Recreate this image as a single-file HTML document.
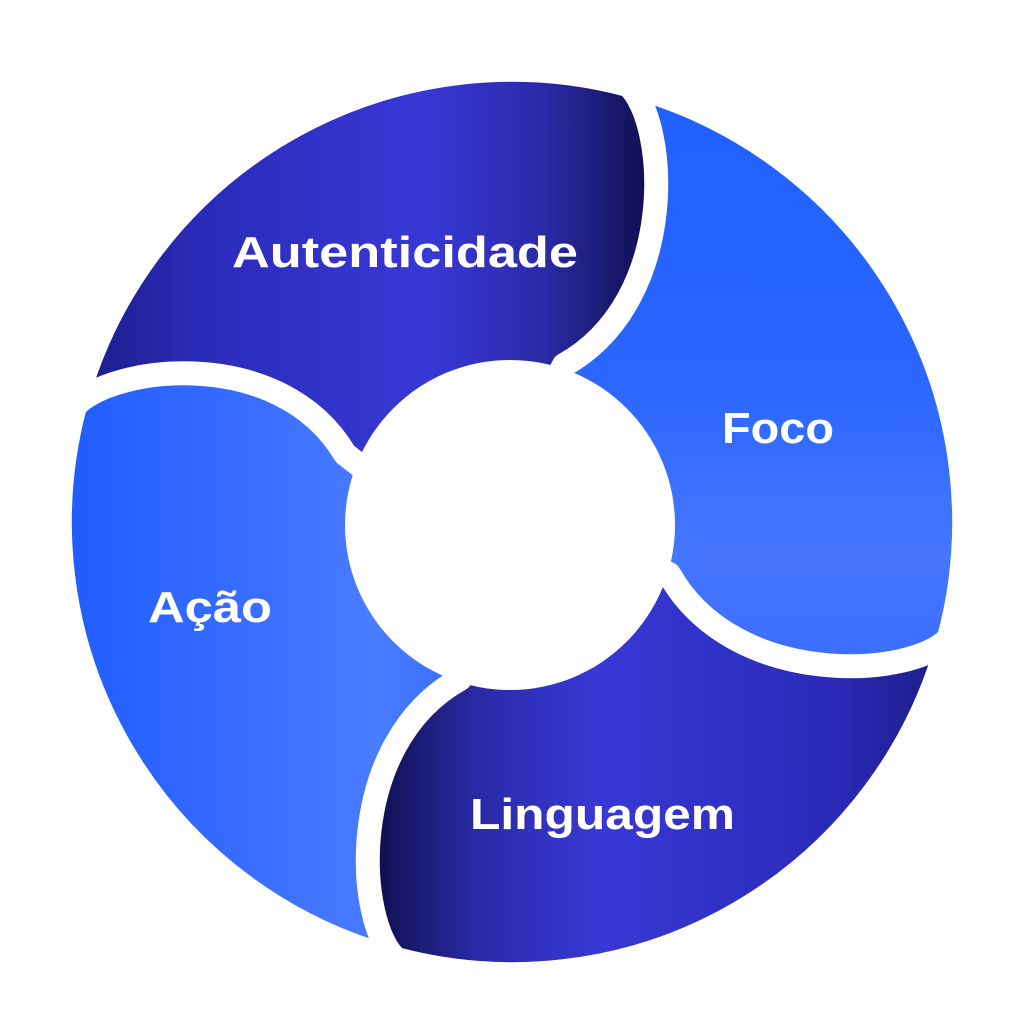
<!DOCTYPE html>
<html><head><meta charset="utf-8"><style>
html,body{margin:0;padding:0;background:#fff;width:1024px;height:1024px;overflow:hidden}
text{font-family:"Liberation Sans",sans-serif;font-weight:bold;fill:#fff}
</style></head><body>
<svg width="1024" height="1024" viewBox="0 0 1024 1024" xmlns="http://www.w3.org/2000/svg">
<defs>
<linearGradient id="dark" x1="0" y1="0" x2="1" y2="0">
<stop offset="0" stop-color="#1c1c85"/>
<stop offset="0.2" stop-color="#2a2ab8"/>
<stop offset="0.6" stop-color="#3838d6"/>
<stop offset="0.8" stop-color="#2a2aa8"/>
<stop offset="1" stop-color="#0e0c45"/>
</linearGradient>
<linearGradient id="blueF" x1="0" y1="0" x2="1" y2="0">
<stop offset="0" stop-color="#2060ff"/>
<stop offset="0.5" stop-color="#2a66ff"/>
<stop offset="0.8" stop-color="#4676ff"/>
<stop offset="1" stop-color="#3a6cff"/>
</linearGradient>
<linearGradient id="blueA" x1="0" y1="0" x2="0" y2="1">
<stop offset="0" stop-color="#1f5cff"/>
<stop offset="0.45" stop-color="#3a6eff"/>
<stop offset="0.7" stop-color="#4a7cff"/>
<stop offset="1" stop-color="#2a64ff"/>
</linearGradient>
<path id="seg" d="M75,406 A452,452 0 0 1 628,85 C668,120 690,290 580,355 L545,400 L512,522 L390,489 L355,470 C290,354 110,366 75,406 Z"/>
</defs>
<g stroke="#fff" stroke-width="24" stroke-linejoin="round">
<use href="#seg" fill="url(#dark)"/>
<use href="#seg" fill="url(#blueF)" transform="rotate(90 512 522)"/>
<use href="#seg" fill="url(#dark)" transform="rotate(180 512 522)"/>
<use href="#seg" fill="url(#blueA)" transform="rotate(270 512 522)"/>
</g>
<circle cx="510" cy="525" r="165" fill="#fff"/>
<text x="232" y="267" font-size="44" textLength="346" lengthAdjust="spacingAndGlyphs">Autenticidade</text>
<text x="722" y="443" font-size="44" textLength="112" lengthAdjust="spacingAndGlyphs">Foco</text>
<text x="148" y="622" font-size="44" textLength="124" lengthAdjust="spacingAndGlyphs">Ação</text>
<text x="470" y="829" font-size="44" textLength="265" lengthAdjust="spacingAndGlyphs">Linguagem</text>
</svg>
</body></html>
